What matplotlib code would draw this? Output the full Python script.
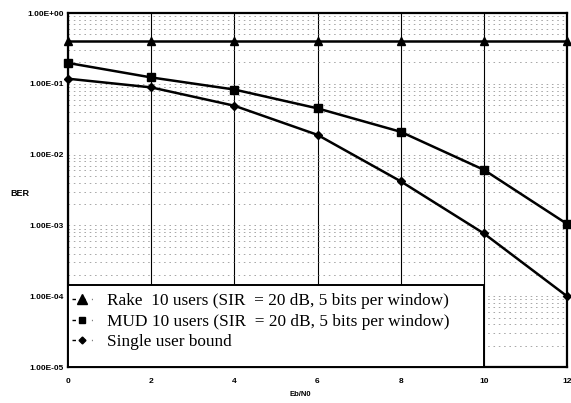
import matplotlib
matplotlib.use("Agg")
import matplotlib.pyplot as plt
from matplotlib.lines import Line2D
from matplotlib.patches import Rectangle
from matplotlib.ticker import LogLocator, NullFormatter

ebn0 = [0, 2, 4, 6, 8, 10, 12]
rake_ber = [0.40, 0.40, 0.40, 0.40, 0.40, 0.40, 0.40]
mud_ber = [0.197, 0.123, 0.083, 0.045, 0.021, 0.0061, 0.00105]
single_ber = [0.118, 0.089, 0.049, 0.019, 0.0042, 0.00077, 0.0001]
labels = ["Rake  10 users (SIR  = 20 dB, 5 bits per window)",
          "MUD 10 users (SIR  = 20 dB, 5 bits per window)",
          "Single user bound"]
yticks = [1e0, 1e-1, 1e-2, 1e-3, 1e-4, 1e-5]
ytick_labels = ["1.00E+00", "1.00E-01", "1.00E-02", "1.00E-03", "1.00E-04", "1.00E-05"]

fig = plt.figure(figsize=(5.71, 4.03), dpi=100)
ax = fig.add_axes([68/571, 1-367/403, (567-68)/571, (367-13)/403])

ax.set_yscale("log")
ax.set_xlim(0, 12)
ax.set_ylim(1e-5, 1e0)

# grid
ax.yaxis.set_minor_locator(LogLocator(base=10, subs=range(2, 10)))
ax.yaxis.set_minor_formatter(NullFormatter())
ax.grid(True, axis="y", which="both", color="#777777", lw=0.45, ls=(0, (2.5, 6)))
ax.set_xticks(ebn0)
ax.grid(True, axis="x", which="major", color="black", lw=0.8, ls="-")

ax.plot(ebn0, rake_ber, color="black", lw=1.8, marker="^", ms=6, zorder=3, clip_on=False)
ax.plot(ebn0, mud_ber, color="black", lw=1.8, marker="s", ms=6, zorder=3, clip_on=False)
ax.plot(ebn0, single_ber, color="black", lw=1.8, marker="D", ms=4.5, zorder=3, clip_on=False)

ax.set_yticks(yticks)
ax.set_yticklabels(ytick_labels)
ax.set_xticklabels([str(v) for v in ebn0])
ax.tick_params(axis="both", which="both", length=0, labelsize=6)
for t in ax.get_yticklabels() + ax.get_xticklabels():
    t.set_fontfamily("Liberation Sans")
    t.set_fontweight("bold")
ax.tick_params(axis="y", pad=3)
ax.tick_params(axis="x", pad=8)

for s in ax.spines.values():
    s.set_linewidth(1.6)
    s.set_color("black")

fig.text(10/571, 1-193/403, "BER", fontsize=6.5, fontweight="bold",
         family="Liberation Sans", va="center", ha="left")
fig.text(300/571, 1-395/403, "Eb/N0", fontsize=5.5, fontweight="bold",
         family="Liberation Sans", va="center", ha="center")

# legend box
box_w, box_h = (484-68)/(567-68), (367-285)/(367-13)
ax.add_patch(Rectangle((0, 0), box_w, box_h, transform=ax.transAxes,
                       facecolor="white", edgecolor="black", lw=1.4, zorder=4))

dash = (0, (2.5, 4.5))
handles = [Line2D([], [], color="black", lw=1.0, ls=dash, marker="^", ms=7),
           Line2D([], [], color="black", lw=1.0, ls=dash, marker="s", ms=5),
           Line2D([], [], color="black", lw=1.0, ls=dash, marker="D", ms=3.5)]
leg = ax.legend(handles, labels, loc="upper left",
                bbox_to_anchor=(0, box_h - 4/354), borderaxespad=0, frameon=False,
                prop={"family": "Liberation Serif", "size": 12.4},
                handlelength=1.16, handletextpad=0.85, labelspacing=0.24,
                borderpad=0.25)
leg.set_zorder(5)

fig.savefig("out.png", dpi=100)
